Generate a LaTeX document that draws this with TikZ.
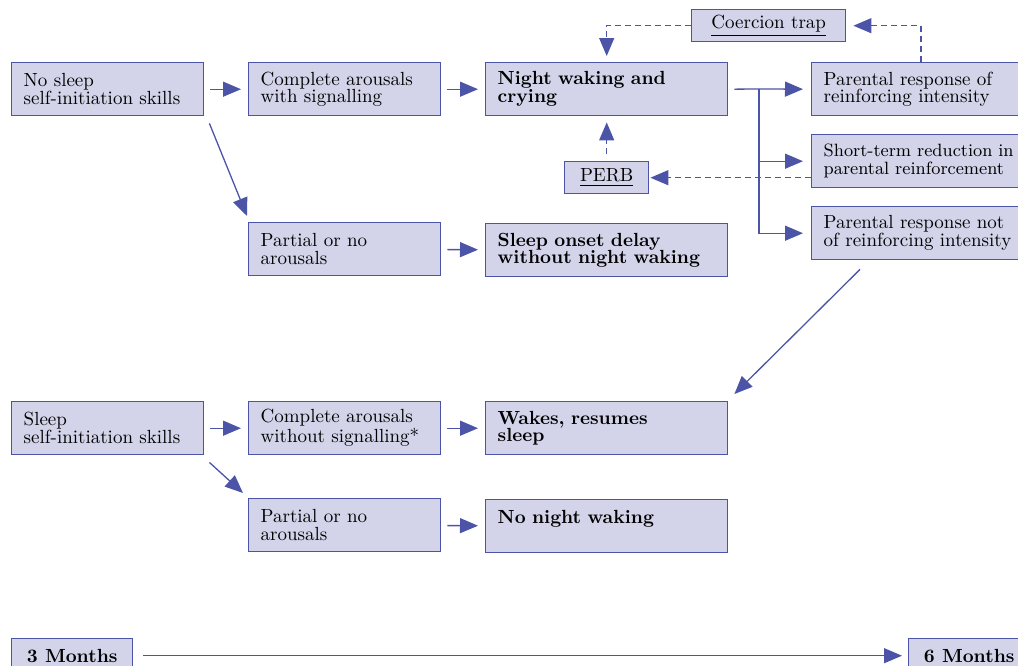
\documentclass[tikz,border=0pt]{standalone}
\usetikzlibrary{arrows.meta}
\definecolor{boxfill}{RGB}{211,211,233}
\definecolor{edgecol}{RGB}{76,84,168}
\tikzset{
  box/.style={draw=edgecol, fill=boxfill, line width=0.7pt, anchor=north west, align=left,
    inner xsep=6pt, inner ysep=0pt, minimum height=26.5pt, font=\fontsize{9.5}{8.9}\selectfont},
  narrow/.style={box, text width=84pt},
  wide/.style={box, text width=109pt},
  side/.style={box, text width=104pt},
  tag/.style={box, align=center, minimum height=16pt},
  age/.style={box, align=center, minimum width=60.5pt, minimum height=17pt, font=\fontsize{9.5}{8.9}\selectfont\bfseries},
  arr/.style={draw=edgecol, line width=0.65pt, -{Triangle[length=9pt,width=7.5pt]}},
  dasharr/.style={arr, dash pattern=on 3pt off 2pt}
}
\begin{document}
\begin{tikzpicture}[x=0.5pt, y=-0.5pt]
\useasboundingbox (0,0) rectangle (1018,665);

\node[narrow] (nosk) at (11,62) {No sleep\\self-initiation skills};
\node[narrow] (compsig) at (248,62) {Complete arousals\\with signalling};
\node[wide] (wakecry) at (485,62) {\bfseries Night waking and\\\bfseries crying};
\node[side] (reinf) at (811,62) {Parental response of\\reinforcing intensity};
\node[side, font=\fontsize{8.9}{8.9}\selectfont] (shortred) at (811,134) {Short-term reduction in\\parental reinforcement};
\node[side] (notreinf) at (811,206) {Parental response not\\of reinforcing intensity};
\node[tag, minimum width=77pt] (coerc) at (691,9) {\underline{Coercion trap}};
\node[tag, minimum width=42pt] (perb) at (564,161) {\underline{PERB}};
\node[narrow] (partial1) at (248,222) {Partial or no\\arousals};
\node[wide] (delay) at (485,223) {\bfseries Sleep onset delay\\\bfseries without night waking};

\node[narrow] (selfsk) at (11,401) {Sleep\\self-initiation skills};
\node[narrow] (compnosig) at (248,401) {Complete arousals\\without signalling*};
\node[wide] (resume) at (485,401) {\bfseries Wakes, resumes\\\bfseries sleep};
\node[narrow] (partial2) at (248,498) {Partial or no\\arousals};
\node[wide] (nowake) at (485,499) {\bfseries No night waking\\\mbox{}};

\node[age] (m3) at (11,638) {3 Months};
\node[age] (m6) at (908,638) {6 Months};

\draw[arr, shorten <=3pt, shorten >=3.5pt] (nosk) -- (compsig);
\draw[arr, shorten <=3pt, shorten >=3.5pt] (compsig) -- (wakecry);
\draw[arr, shorten <=3pt, shorten >=3.5pt] (partial1) -- (delay);
\draw[arr, shorten <=3pt, shorten >=3.5pt] (selfsk) -- (compnosig);
\draw[arr, shorten <=3pt, shorten >=3.5pt] (compnosig) -- (resume);
\draw[arr, shorten <=3pt, shorten >=3.5pt] (partial2) -- (nowake);
\draw[arr] ([shift={(5,7)}]nosk.south east) -- ([shift={(-1,-6)}]partial1.north west);
\draw[arr] ([shift={(5,7)}]selfsk.south east) -- ([shift={(-5,-5)}]partial2.north west);

\coordinate (br) at (759,89);
\draw[edgecol, line width=0.65pt, shorten <=3pt] (wakecry.east) -- (br);
\draw[arr, shorten >=4pt] (br) -- (reinf.west);
\draw[arr, shorten >=4pt] (br) |- (shortred.west);
\draw[arr, shorten >=4pt] (br) |- (notreinf.west);

\draw[dasharr, shorten >=3.5pt] ([xshift=55pt]reinf.north west) |- (coerc.east);
\draw[dasharr, shorten >=3pt] (coerc.west) -| (wakecry.north);
\draw[dasharr, shorten >=0.5pt] (shortred.west |- perb.east) -- (perb.east);
\draw[dasharr, shorten <=3.5pt, shorten >=3pt] (perb.north) -- (wakecry.south);

\draw[arr] ([shift={(49,9)}]notreinf.south west) -- ([shift={(6,-7)}]resume.north east);
\draw[arr, shorten <=5pt, shorten >=3pt] (m3) -- (m6);
\end{tikzpicture}
\end{document}
